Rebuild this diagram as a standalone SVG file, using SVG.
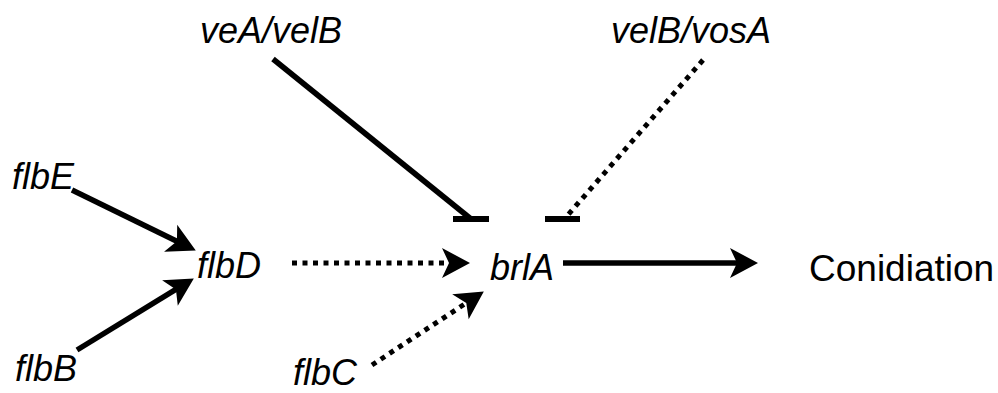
<svg xmlns="http://www.w3.org/2000/svg" width="998" height="393" viewBox="0 0 998 393">
  <style>
    .gene { font-family: "Liberation Sans", Arial, sans-serif; font-style: italic; font-size: 36px; fill: #000; }
    .plain { font-family: "Liberation Sans", Arial, sans-serif; font-size: 37px; fill: #000; }
    .solid { stroke: #000; stroke-width: 5.5; fill: none; }
    .dotted { stroke: #000; stroke-width: 5; fill: none; stroke-dasharray: 5 5.5; }
    .bar { stroke: #000; stroke-width: 6; fill: none; }
  </style>
  <defs>
    <marker id="head" markerUnits="userSpaceOnUse" orient="auto" refX="0" refY="0" markerWidth="40" markerHeight="40" overflow="visible">
      <path d="M 12 0 L -16 -15 L -9 0 L -16 15 Z" fill="#000" stroke="none"/>
    </marker>
  </defs>
  <rect width="998" height="393" fill="#fff"/>

  <g id="connectors">
    <line class="solid" x1="72" y1="190" x2="185" y2="245.2" marker-end="url(#head)"/>
    <line class="solid" x1="77" y1="350" x2="183.6" y2="284.7" marker-end="url(#head)"/>
    <line class="dotted" x1="292" y1="263" x2="458" y2="263" marker-end="url(#head)"/>
    <line class="dotted" x1="372" y1="365" x2="473.8" y2="298" marker-end="url(#head)"/>
    <line class="solid" x1="563" y1="263" x2="746" y2="263" marker-end="url(#head)"/>
    <line class="solid" x1="273" y1="59" x2="471" y2="219"/>
    <line class="bar" x1="453" y1="219" x2="489" y2="219"/>
    <line class="dotted" x1="703" y1="60" x2="567" y2="216"/>
    <line class="bar" x1="545" y1="219" x2="580" y2="219"/>
  </g>

  <g id="veA_velB"><text class="gene" x="200" y="43">veA/velB</text></g>
  <g id="velB_vosA"><text class="gene" x="611" y="43">velB/vosA</text></g>
  <g id="flbE"><text class="gene" x="12" y="189">flbE</text></g>
  <g id="flbD"><text class="gene" x="197" y="278">flbD</text></g>
  <g id="flbB"><text class="gene" x="15" y="381">flbB</text></g>
  <g id="flbC"><text class="gene" x="293" y="385">flbC</text></g>
  <g id="brlA"><text class="gene" x="490" y="280">brlA</text></g>
  <g id="Conidiation"><text class="plain" x="809" y="281">Conidiation</text></g>
</svg>
